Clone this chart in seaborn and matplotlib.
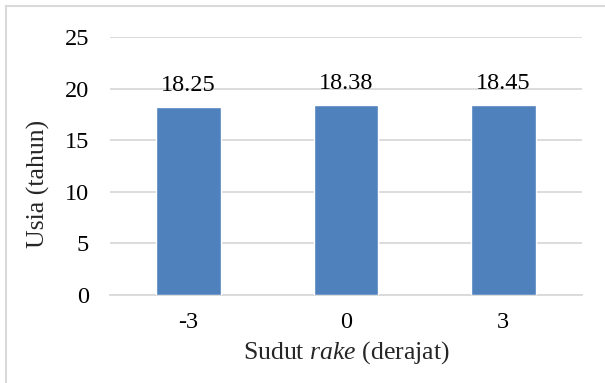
import matplotlib
matplotlib.use("Agg")
import matplotlib.pyplot as plt
import matplotlib.patches as mpatches
import seaborn as sns
import pandas as pd

# Rake angle (degrees) and the resulting age (years)
sudut = ["-3", "0", "3"]
usia = [18.25, 18.38, 18.45]
y_ticks = [0, 5, 10, 15, 20, 25]

sns.set_theme(style="white")
plt.rcParams["font.family"] = ["Liberation Serif", "DejaVu Serif"]
plt.rcParams["mathtext.fontset"] = "custom"
plt.rcParams["mathtext.rm"] = "Liberation Serif"
plt.rcParams["mathtext.it"] = "Liberation Serif:italic"

TICK_FS = 17.5
LABEL_FS = 18.5

df = pd.DataFrame({"sudut": sudut, "usia": usia})

fig = plt.figure(figsize=(6.05, 3.83), dpi=100)
ax = fig.add_axes([110 / 605, 1 - 295 / 383, 472 / 605, 258 / 383])

sns.barplot(data=df, x="sudut", y="usia", color="#4F81BD", width=0.41,
            saturation=1, ax=ax, zorder=3)

ax.set_ylim(0, 25)
ax.set_yticks(y_ticks)
ax.set_xlim(-0.5, 2.5)
ax.grid(axis="y", color="#D9D9D9", linewidth=1.3, zorder=0)
for side in ["top", "right", "left"]:
    ax.spines[side].set_visible(False)
ax.spines["bottom"].set_color("#D9D9D9")
ax.spines["bottom"].set_linewidth(1.3)
ax.tick_params(axis="both", length=0, labelsize=TICK_FS, colors="black")
ax.tick_params(axis="y", pad=15)
ax.tick_params(axis="x", pad=12)

for i, v in enumerate(usia):
    ax.annotate(f"{v:.2f}", (i, v), xytext=(0, 11.5), textcoords="offset points",
                ha="center", va="baseline", fontsize=TICK_FS, color="black")

ax.set_xlabel(r"Sudut $\mathit{rake}$ (derajat)", fontsize=LABEL_FS, labelpad=5)
ax.set_ylabel("Usia (tahun)", fontsize=LABEL_FS)
ax.yaxis.set_label_coords(-0.127, 0.43)

# Light frame around the chart area
fig.patches.append(mpatches.Rectangle((6 / 605, -0.1), 1.2, 1 - 6 / 383 + 0.1,
                                      transform=fig.transFigure, fill=False,
                                      edgecolor="#D9D9D9", linewidth=1.5))

fig.savefig("out.png", dpi=100)
